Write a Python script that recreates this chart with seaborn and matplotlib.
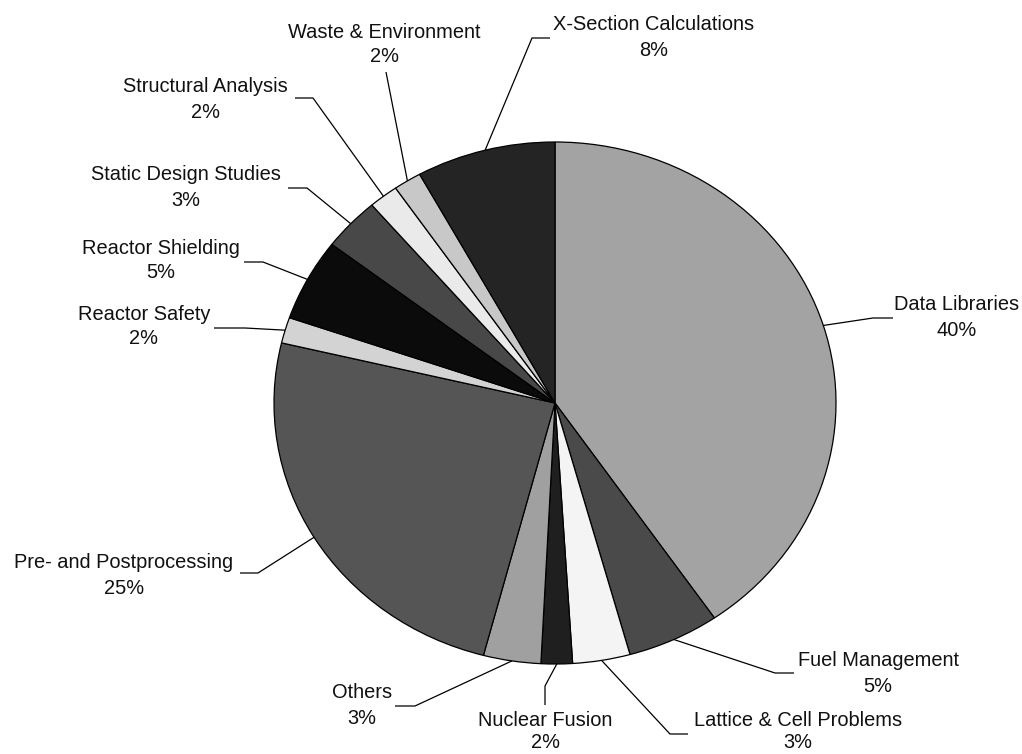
import numpy as np
import matplotlib
matplotlib.use("Agg")
import matplotlib.pyplot as plt
import seaborn as sns

# Share of codes by subject area (percent)
categories = [
    "Data Libraries", "Fuel Management", "Lattice & Cell Problems", "Nuclear Fusion",
    "Others", "Pre- and Postprocessing", "Reactor Safety", "Reactor Shielding",
    "Static Design Studies", "Structural Analysis", "Waste & Environment",
    "X-Section Calculations",
]
shares = [40.4, 5.3, 3.3, 1.8, 3.3, 24.6, 1.6, 5.1, 3.3, 1.7, 1.6, 8.0]
slice_colors = [
    "#a3a3a3", "#4a4a4a", "#f4f4f4", "#1f1f1f", "#a0a0a0", "#555555",
    "#d3d3d3", "#0b0b0b", "#484848", "#eaeaea", "#c8c8c8", "#242424",
]

sns.set_theme(style="white")
plt.rcParams["font.family"] = ["Liberation Sans", "DejaVu Sans"]

W, H = 1022, 754
CX, CY, RX, RY = 555, 403, 281, 261   # pie centre and radii in pixels


def px(x, y):
    """Pixel position -> axes data coordinates (pie radius = 1)."""
    return (x - CX) / RX, (CY - y) / RY


fig = plt.figure(figsize=(W / 100, H / 100), dpi=100)
fig.patch.set_facecolor("white")
ax = fig.add_axes([0, 0, 1, 1])

wedges, _ = ax.pie(
    shares, colors=slice_colors, startangle=90, counterclock=False,
    radius=1.0, wedgeprops=dict(edgecolor="black", linewidth=0.9),
)
ax.set_aspect("auto")
ax.set_xlim(px(0, 0)[0], px(W, 0)[0])
ax.set_ylim(px(0, H)[1], px(0, 0)[1])
ax.axis("off")

# Leader-line elbow, leader end and label centre (x, name y, value y), in pixels
label_layout = [
    ((873, 318), (893, 318), (957, 305, 330)),
    ((775, 673), (794, 673), (878, 661, 687)),
    ((670, 734), (688, 734), (798, 721, 743)),
    ((545, 686), (545, 705), (545, 721, 743)),
    ((415, 706), (395, 706), (362, 693, 718)),
    ((258, 573), (240, 573), (124, 562, 588)),
    ((245, 328), (214, 328), (144, 315, 339)),
    ((263, 262), (244, 262), (161, 248, 273)),
    ((307, 188), (288, 188), (186, 175, 200)),
    ((313, 98), (295, 98), (205, 86, 112)),
    ((386, 72), (386, 72), (384, 32, 57)),
    ((532, 38), (550, 38), (654, 25, 51)),
]

for wedge, name, share, (elbow, end, (tx, ny, vy)) in zip(wedges, categories, shares, label_layout):
    mid = np.deg2rad((wedge.theta1 + wedge.theta2) / 2)
    sx, sy = np.cos(mid), np.sin(mid)
    ex, ey = px(*elbow)
    fx, fy = px(*end)
    ax.plot([sx, ex, fx], [sy, ey, fy], color="black", lw=0.9,
            solid_capstyle="butt", zorder=3)
    ax.text(*px(tx, ny), name, ha="center", va="center", fontsize=14.4, color="#111111")
    ax.text(*px(tx, vy), f"{share:.0f}%", ha="center", va="center", fontsize=14.4,
            color="#111111")

fig.savefig("out.png", dpi=100, facecolor="white")
